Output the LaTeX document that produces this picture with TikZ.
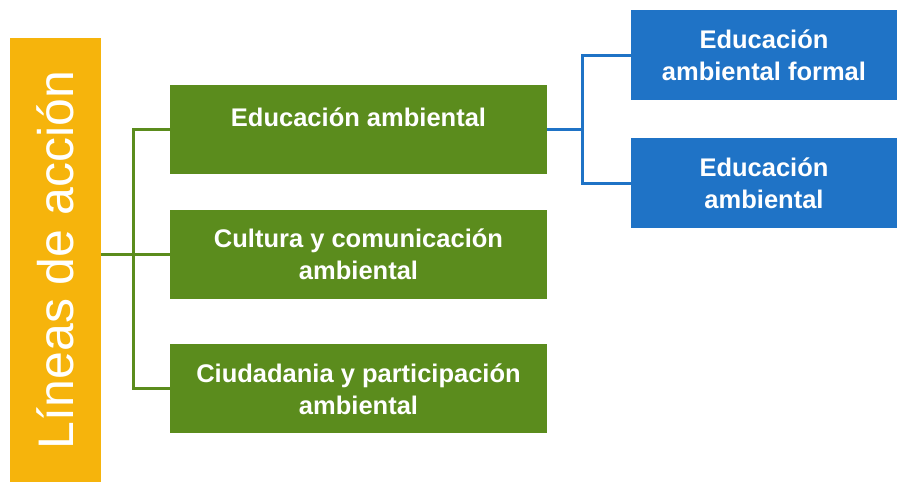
\documentclass[tikz,border=0pt]{standalone}
\usepackage{fontspec}
\setmainfont{Liberation Sans}
\definecolor{amber}{HTML}{F6B40C}
\definecolor{leaf}{HTML}{5B8C1D}
\definecolor{ocean}{HTML}{1F73C6}
\usetikzlibrary{positioning,calc}
\tikzset{
  bar/.style={fill=amber,text=white,inner sep=0pt,
              font=\fontsize{50}{60}\selectfont},
  gbox/.style={fill=leaf,text=white,align=center,inner sep=4pt,
               minimum width=377pt,minimum height=89pt,
               font=\bfseries\fontsize{25.5}{32}\selectfont},
  bbox/.style={gbox,fill=ocean,minimum width=266pt,minimum height=90pt},
  gline/.style={draw=leaf,line width=3pt},
  bline/.style={draw=ocean,line width=3pt}
}
\begin{document}
\begin{tikzpicture}[x=1pt,y=-1pt]
  \useasboundingbox (0,0) rectangle (897,482);
  \node[bar,rotate=90,minimum width=444pt,minimum height=91pt] (lineas) at (55.5,260) {Líneas de acción};
  \node[gbox,text depth=24pt] (edu) at (358.5,129) {Educación ambiental};
  \node[gbox,below=36pt of edu] (cult) {Cultura y comunicación\\ambiental};
  \node[gbox,below=45pt of cult] (ciud) {Ciudadania y participación\\ambiental};
  \node[bbox] (formal) at (764,55) {Educación\\ambiental formal};
  \node[bbox,below=38pt of formal] (nofor) {Educación\\ambiental};
  % green tree
  \coordinate (gj) at (133,0);
  \draw[gline] (lineas.south |- cult.west) -- (cult.west);
  \draw[gline] (edu.west) -| (gj |- ciud.west) -- (ciud.west);
  % blue tree
  \coordinate (bj) at (582,0);
  \draw[bline] (edu.east) -- (bj |- edu.east);
  \draw[bline] (formal.west) -| (bj |- nofor.west) -- (nofor.west);
\end{tikzpicture}
\end{document}
